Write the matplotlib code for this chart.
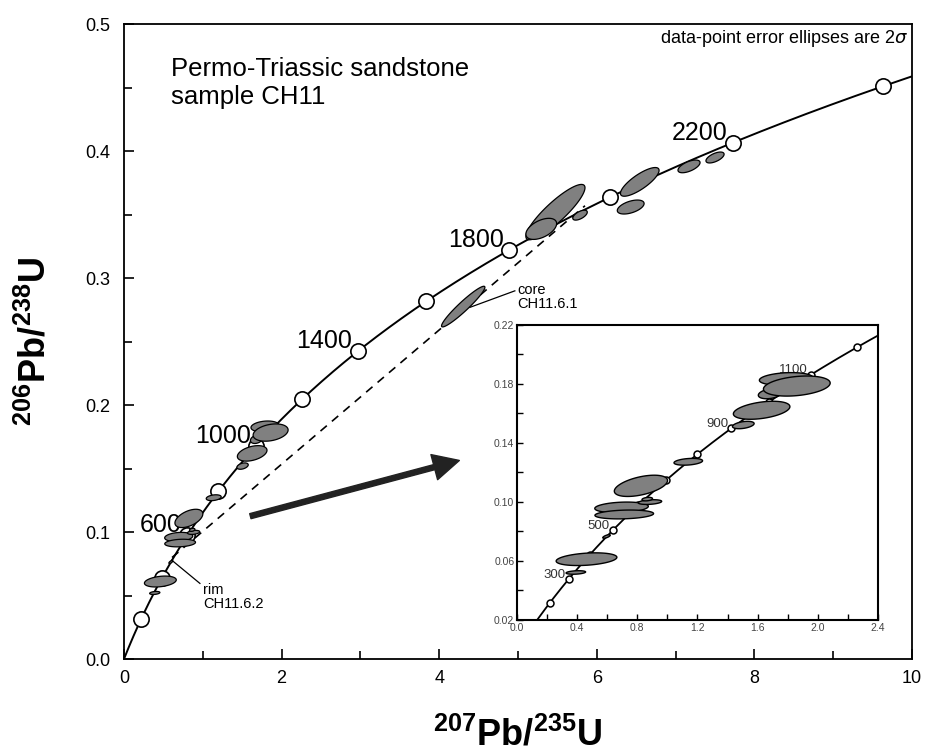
import numpy as np
import matplotlib
matplotlib.use('Agg')
import matplotlib.pyplot as plt
from matplotlib.ticker import MultipleLocator, FixedLocator, FormatStrFormatter

plt.rcParams['font.family'] = ['Liberation Sans', 'DejaVu Sans']
plt.rcParams['mathtext.fontset'] = 'custom'
plt.rcParams['mathtext.rm'] = 'Liberation Sans'
plt.rcParams['mathtext.bf'] = 'Liberation Sans:bold'

# decay constants (1/yr)
L238 = 1.55125e-10
L235 = 9.8485e-10

# concordia age markers (Ma)
main_ages = [200, 400, 600, 800, 1000, 1200, 1400, 1600, 1800, 2000, 2200, 2400]
main_labels = [600, 1000, 1400, 1800, 2200]
inset_ages = [200, 300, 400, 500, 600, 700, 800, 900, 1000, 1100, 1200]
inset_labels = [300, 500, 900, 1100]
inset_yticks = [0.02, 0.06, 0.10, 0.14, 0.18, 0.22]

# young grains: 207/235, 2s, 206/238, 2s, rho
young_x = [0.462, 0.391, 0.595, 0.695, 0.713, 0.884, 0.866, 0.824, 1.139, 1.505, 1.627, 1.683, 1.790, 1.861]
young_sx = [0.202, 0.065, 0.025, 0.178, 0.195, 0.078, 0.035, 0.177, 0.095, 0.072, 0.188, 0.078, 0.178, 0.222]
young_y = [0.0611, 0.0521, 0.0765, 0.0962, 0.0914, 0.0998, 0.1018, 0.1108, 0.1271, 0.1520, 0.1620, 0.1732, 0.1832, 0.1784]
young_sy = [0.0043, 0.0012, 0.0012, 0.0036, 0.0030, 0.0016, 0.0012, 0.0072, 0.0023, 0.0025, 0.0061, 0.0034, 0.0043, 0.0068]
young_rho = [0.3, 0.3, 0.7, 0.2, 0.2, 0.3, 0.3, 0.5, 0.3, 0.4, 0.4, 0.3, 0.2, 0.3]

# old grains
old_x = [5.475, 5.295, 5.787, 6.545, 6.430, 7.170, 7.500, 4.305]
old_sx = [0.375, 0.195, 0.092, 0.245, 0.170, 0.140, 0.115, 0.275]
old_y = [0.3520, 0.3388, 0.3496, 0.3758, 0.3560, 0.3880, 0.3950, 0.2776]
old_sy = [0.0218, 0.0083, 0.0039, 0.0113, 0.0055, 0.0050, 0.0043, 0.0160]
old_rho = [0.88, 0.5, 0.6, 0.8, 0.5, 0.6, 0.6, 0.95]

# discordia through core and rim
disc_x = [0.61, 5.85]
disc_y = [0.080, 0.357]


def concordia(ages):
    t = np.asarray(ages, dtype=float) * 1e6
    return np.exp(L235 * t) - 1, np.exp(L238 * t) - 1


def draw_ellipse(ax, x, sx, y, sy, rho, lw=0.9):
    t = np.linspace(0, 2 * np.pi, 120)
    px = x + sx * np.cos(t)
    py = y + sy * (rho * np.cos(t) + np.sqrt(1 - rho ** 2) * np.sin(t))
    ax.fill(px, py, facecolor='#808080', edgecolor='black', lw=lw, zorder=4)


fig = plt.figure(figsize=(9.25, 7.55), dpi=100)
ax = fig.add_axes([0.134, 0.127, 0.852, 0.841])

cx, cy = concordia(np.linspace(0, 2700, 600))
ax.plot(cx, cy, color='black', lw=1.4, zorder=2)
mx, my = concordia(main_ages)
ax.plot(mx, my, 'o', ms=11, mfc='white', mec='black', mew=1.2, zorder=3)
for age in main_labels:
    lx, ly = concordia([age])
    ax.annotate(str(age), (lx[0], ly[0]), xytext=(-4, 2), textcoords='offset points',
                ha='right', va='baseline', fontsize=18)

ax.plot(disc_x, disc_y, color='black', lw=1.2, ls=(0, (5, 4)), zorder=1)

for i in range(len(young_x)):
    draw_ellipse(ax, young_x[i], young_sx[i], young_y[i], young_sy[i], young_rho[i])
for i in range(len(old_x)):
    draw_ellipse(ax, old_x[i], old_sx[i], old_y[i], old_sy[i], old_rho[i])

# labels for core and rim
ax.plot([0.605, 0.964], [0.078, 0.0596], color='black', lw=0.9, zorder=5)
ax.text(1.0, 0.060, 'rim\nCH11.6.2', fontsize=10.5, va='top', ha='left', linespacing=1.0)
ax.plot([4.39, 4.96], [0.277, 0.290], color='black', lw=0.9, zorder=5)
ax.text(4.99, 0.296, 'core\nCH11.6.1', fontsize=10.5, va='top', ha='left', linespacing=1.0)

ax.annotate('', xy=(4.29, 0.157), xytext=(1.57, 0.112),
            arrowprops=dict(arrowstyle='simple,tail_width=0.22,head_width=1.1,head_length=1.1',
                            mutation_scale=17, fc='#222222', ec='#222222'))

ax.text(0.6, 0.474, 'Permo-Triassic sandstone\nsample CH11', fontsize=18.5, va='top', ha='left')
ax.text(9.95, 0.497, r'data-point error ellipses are 2$\sigma$', fontsize=13,
        va='top', ha='right')

ax.set_xlim(0, 10)
ax.set_ylim(0, 0.5)
ax.xaxis.set_major_locator(MultipleLocator(2))
ax.xaxis.set_minor_locator(MultipleLocator(1))
ax.yaxis.set_major_locator(MultipleLocator(0.1))
ax.yaxis.set_minor_locator(MultipleLocator(0.05))
ax.yaxis.set_major_formatter(FormatStrFormatter('%.1f'))
ax.tick_params(which='both', direction='in', labelsize=13, width=1.2, top=False, right=False)
ax.tick_params(which='major', length=7)
ax.tick_params(which='minor', length=6)
ax.tick_params(axis='x', pad=8)
ax.tick_params(axis='y', pad=10)
for s in ax.spines.values():
    s.set_linewidth(1.3)

fig.text(518 / 925, 1 - 753 / 755, r'$\mathbf{^{207}Pb/^{235}U}$', fontsize=26,
         ha='center', va='bottom')
fig.text(35 / 925, 1 - 341 / 755, r'$\mathbf{^{206}Pb/^{238}U}$', fontsize=26,
         ha='center', va='center', rotation=90)

# inset
axi = fig.add_axes([0.559, 0.179, 0.390, 0.391])
ix, iy = concordia(np.linspace(0, 1400, 400))
axi.plot(ix, iy, color='black', lw=1.3, zorder=2)
imx, imy = concordia(inset_ages)
axi.plot(imx, imy, 'o', ms=5, mfc='white', mec='black', mew=1.1, zorder=3)
for age in inset_labels:
    lx, ly = concordia([age])
    axi.annotate(str(age), (lx[0], ly[0]), xytext=(-2, 1), textcoords='offset points',
                 ha='right', va='baseline', fontsize=9.5, color='#333333')
for i in range(len(young_x)):
    draw_ellipse(axi, young_x[i], young_sx[i], young_y[i], young_sy[i], young_rho[i], lw=1.0)

axi.set_xlim(0, 2.4)
axi.set_ylim(0.02, 0.22)
axi.xaxis.set_major_locator(MultipleLocator(0.4))
axi.xaxis.set_minor_locator(MultipleLocator(0.2))
axi.yaxis.set_major_locator(FixedLocator(inset_yticks))
axi.yaxis.set_minor_locator(FixedLocator([v + 0.02 for v in inset_yticks[:-1]]))
axi.xaxis.set_major_formatter(FormatStrFormatter('%.1f'))
axi.yaxis.set_major_formatter(FormatStrFormatter('%.2f'))
axi.tick_params(which='both', direction='in', labelsize=7.5, labelcolor='#444444',
                width=1.0, pad=2, top=False, right=False)
axi.tick_params(which='major', length=4)
axi.tick_params(which='minor', length=4)
for s in axi.spines.values():
    s.set_linewidth(1.5)

fig.savefig('out.png', dpi=100)
